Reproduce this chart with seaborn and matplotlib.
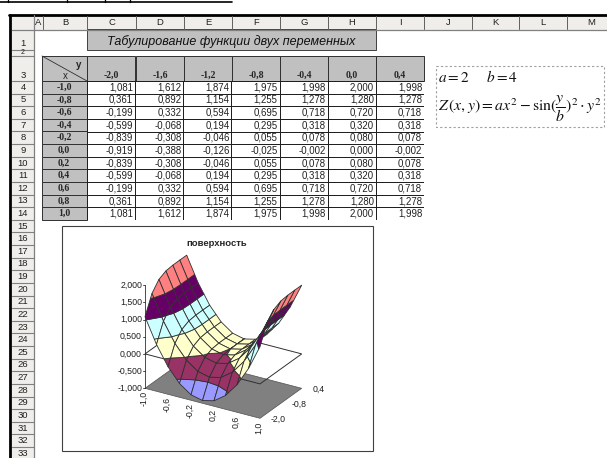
import numpy as np
import pandas as pd
import seaborn as sns
import matplotlib.pyplot as plt
from matplotlib.colors import ListedColormap
from matplotlib.patches import Polygon, Rectangle

# values from the table
y_values = [-2.0, -1.6, -1.2, -0.8, -0.4, 0.0, 0.4]
x_values = [-1.0, -0.8, -0.6, -0.4, -0.2, 0.0, 0.2, 0.4, 0.6, 0.8, 1.0]
row_m10 = [1.081, 1.612, 1.874, 1.975, 1.998, 2.000, 1.998]
row_m08 = [0.361, 0.892, 1.154, 1.255, 1.278, 1.280, 1.278]
row_m06 = [-0.199, 0.332, 0.594, 0.695, 0.718, 0.720, 0.718]
row_m04 = [-0.599, -0.068, 0.194, 0.295, 0.318, 0.320, 0.318]
row_m02 = [-0.839, -0.308, -0.046, 0.055, 0.078, 0.080, 0.078]
row_00 = [-0.919, -0.388, -0.126, -0.025, -0.002, 0.000, -0.002]
row_02 = [-0.839, -0.308, -0.046, 0.055, 0.078, 0.080, 0.078]
row_04 = [-0.599, -0.068, 0.194, 0.295, 0.318, 0.320, 0.318]
row_06 = [-0.199, 0.332, 0.594, 0.695, 0.718, 0.720, 0.718]
row_08 = [0.361, 0.892, 1.154, 1.255, 1.278, 1.280, 1.278]
row_10 = [1.081, 1.612, 1.874, 1.975, 1.998, 2.000, 1.998]

column_letters = ["A", "B", "C", "D", "E", "F", "G", "H", "I", "J", "K", "L", "M"]
column_edges = [34, 43, 87, 136, 184, 232, 280, 328, 376, 424, 472, 519, 567, 615]
z_ticks = [-1.0, -0.5, 0.0, 0.5, 1.0, 1.5, 2.0]
x_ticks = [-1.0, -0.6, -0.2, 0.2, 0.6, 1.0]
y_ticks = [-2.0, -0.8, 0.4]
band_colors = ["#9999FF", "#993366", "#FFFFCC", "#CCFFFF", "#660066", "#FF8080"]

HEAD = "#D4D0C8"
GREY = "#C0C0C0"
SANS = "Liberation Sans"
SERIF = "Liberation Serif"
ROW_H = 12.62


def comma(v, digits):
    return f"{v:.{digits}f}".replace(".", ",")


def project(x, y, z):
    # the excel 3d view is a plain affine projection of the box
    px = 145.0 + (x + 1) / 2 * 115.0 + (y + 2) / 2.4 * 41.7
    py = 388.3 + (x + 1) / 2 * 30.0 - (y + 2) / 2.4 * 30.0 - (z + 1) * 34.4
    return px, py


def clip_band(poly, lo, hi):
    # poly is a list of (x, y, z), cut it to lo <= z <= hi
    for level, sign in ((lo, 1), (hi, -1)):
        out = []
        for k, p in enumerate(poly):
            q = poly[(k + 1) % len(poly)]
            dp, dq = sign * (p[2] - level), sign * (q[2] - level)
            if dp >= 0:
                out.append(p)
            if dp * dq < 0:
                t = dp / (dp - dq)
                out.append(tuple(p[m] + t * (q[m] - p[m]) for m in range(3)))
        poly = out
        if not poly:
            break
    return poly


sns.set_theme(style="white")
plt.rcParams["font.family"] = [SANS, "DejaVu Sans"]
plt.rcParams["mathtext.fontset"] = "stix"

fig = plt.figure(figsize=(6.07, 4.58), dpi=100)
ax = fig.add_axes([0, 0, 1, 1])
ax.set_xlim(0, 607)
ax.set_ylim(458, 0)
ax.axis("off")

# scrap of the page text cut off at the top
ax.plot([0, 232], [2, 2], color="black", lw=1.2)
for sx in [8, 67, 105, 130]:
    ax.plot([sx, sx], [0, 1.5], color="black", lw=1.0)

# sheet frame and headers
ax.add_patch(Rectangle((12, 15), 595, 15, fc=HEAD, ec="none", alpha=0.35))
ax.add_patch(Rectangle((12, 30), 22, 428, fc=HEAD, ec="none", alpha=0.35))
ax.plot([9, 607], [15, 15], color="black", lw=2)
ax.plot([10, 10], [15, 458], color="black", lw=2)
ax.plot([12, 607], [29.5, 29.5], color="#808080", lw=0.9)
ax.plot([34, 34], [15, 458], color="#808080", lw=0.9)
for k, letter in enumerate(column_letters):
    left, right = column_edges[k], column_edges[k + 1]
    if k > 0:
        ax.plot([left, left], [16, 29], color="#606060", lw=0.7)
    ax.text((left + right) / 2, 22.5, letter, ha="center", va="center", fontsize=6.8, color="#202020")

row_tops = {1: 29.5, 2: 50, 3: 56}
for r in range(4, 35):
    row_tops[r] = 81 + (r - 4) * ROW_H
for r in range(1, 34):
    top, bottom = row_tops[r], row_tops[r + 1]
    ax.plot([12, 34], [bottom, bottom], color="#808080", lw=0.8)
    if r == 2:
        ax.text(23, 52.5, "2", ha="center", va="center", fontsize=5, color="#202020")
    elif r in (1, 3):
        ax.text(23, bottom - 6, str(r), ha="center", va="center", fontsize=6.8, color="#202020")
    else:
        ax.text(23, (top + bottom) / 2, str(r), ha="center", va="center", fontsize=6.8, color="#202020")

# title cell
ax.add_patch(Rectangle((87, 28.5), 289, 21.5, fc=GREY, ec="#404040", lw=0.7))
ax.text(231.5, 42, "Табулирование функции двух переменных", ha="center", va="center",
        fontsize=9.0, style="italic", color="#101010")

# table header cells
ax.add_patch(Rectangle((42, 56), 45, 25, fc=GREY, ec="#303030", lw=0.7))
ax.plot([42, 87], [56, 81], color="#303030", lw=0.6)
ax.text(79, 65, "y", ha="center", va="center", fontsize=7, weight="bold", family=SANS)
ax.text(65, 76, "x", ha="center", va="center", fontsize=7, family=SANS)
for k, y in enumerate(y_values):
    ax.add_patch(Rectangle((column_edges[k + 2], 56), 48, 25, fc=GREY, ec="#303030", lw=0.7))
    ax.text(column_edges[k + 2] + 24, 75, comma(y, 1), ha="center", va="center", fontsize=7,
            weight="bold", family=SERIF)
for k, x in enumerate(x_values):
    ax.add_patch(Rectangle((42, 81 + k * ROW_H), 45, ROW_H, fc=GREY, ec="#303030", lw=0.7))
    ax.text(64, 81 + (k + 0.5) * ROW_H, comma(x, 1), ha="center", va="center", fontsize=7,
            weight="bold", family=SERIF)

# body of the table
rows = [row_m10, row_m08, row_m06, row_m04, row_m02, row_00, row_02, row_04, row_06, row_08, row_10]
df = pd.DataFrame(rows, index=x_values, columns=y_values)
labels = df.map(lambda v: comma(v, 3))
ax_table = fig.add_axes([87 / 607, 1 - 220 / 458, 337 / 607, 139 / 458])
sns.heatmap(df, annot=labels, fmt="", cmap=ListedColormap(["white"]), cbar=False, linewidths=0.7,
            linecolor="#202020", xticklabels=False, yticklabels=False, ax=ax_table,
            annot_kws={"fontsize": 6.9, "color": "#202020", "ha": "right"})
for t in ax_table.texts:
    tx, ty = t.get_position()
    t.set_position((tx + 0.46, ty))
ax_table.set_xlabel("")
ax_table.set_ylabel("")

# formula box
ax.add_patch(Rectangle((436, 66), 168, 61, fc="white", ec="#A0A0A0", lw=0.8, ls=(0, (2, 2))))
ax.text(438, 77, r"$a = 2\quad\ \ b = 4$", ha="left", va="center", fontsize=11, color="#101010")
ax.text(438, 109, r"$Z\,(x,y)=ax^2-\sin(\dfrac{y}{b})^2\cdot y^2$", ha="left", va="center",
        fontsize=11.3, color="#101010")

# chart frame
ax.add_patch(Rectangle((62, 226), 311, 225, fc="white", ec="#404040", lw=0.8, zorder=2))
ax.text(217, 244, "поверхность", ha="center", va="center", fontsize=6.8, weight="bold", zorder=3)

# floor and the z=0 outline
corners = [(-1, -2), (1, -2), (1, 0.4), (-1, 0.4)]
ax.add_patch(Polygon([project(cx, cy, -1) for cx, cy in corners], fc="#808080", ec="#505050", lw=0.5, zorder=3))
ax.add_patch(Polygon([project(cx, cy, 0) for cx, cy in corners], fc="none", ec="#303030", lw=0.7, zorder=3))

# z axis with its ticks
ax.plot(*zip(project(-1, -2, -1), project(-1, -2, 2)), color="#303030", lw=0.6, zorder=3)
for z in z_ticks:
    px, py = project(-1, -2, z)
    ax.plot([px - 2, px], [py, py], color="#303030", lw=0.6, zorder=3)
    ax.text(px - 3, py, comma(z, 3), ha="right", va="center", fontsize=6.3, color="#202020", zorder=3)
for x in x_ticks:
    px, py = project(x, -2, -1)
    ax.text(px - 1, py + 3, comma(x, 1), ha="center", va="top", rotation=90, fontsize=6.3,
            color="#202020", zorder=3)
for y in y_ticks:
    px, py = project(1, y, -1)
    ax.text(px + 11, py + 1, comma(y, 1), ha="left", va="center", fontsize=6.3, color="#202020", zorder=3)

# surface, far quads first
z_grid = df.to_numpy()
edges = np.linspace(-1, 2, 7)
order = 4
for i in range(len(x_values) - 1):
    for j in range(len(y_values) - 2, -1, -1):
        quad = [(i, j), (i + 1, j), (i + 1, j + 1), (i, j + 1)]
        pts = [(x_values[a], y_values[b], z_grid[a, b]) for a, b in quad]
        for b, color in enumerate(band_colors):
            part = clip_band(pts, edges[b], edges[b + 1])
            if len(part) >= 3:
                ax.add_patch(Polygon([project(*p) for p in part], fc=color, ec="#303030", lw=0.6,
                                     joinstyle="round", zorder=order))
                order += 0.001

plt.savefig("out.png", dpi=100)
